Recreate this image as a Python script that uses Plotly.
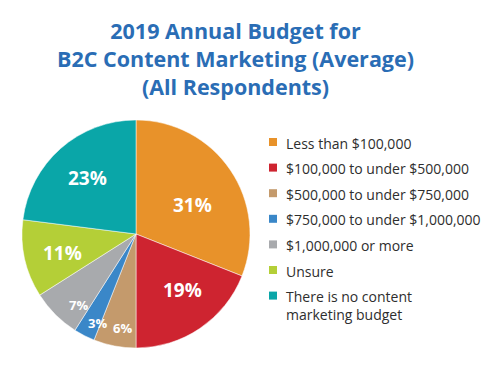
import math
import plotly.graph_objects as go

categories = [
    "Less than $100,000",
    "$100,000 to under $500,000",
    "$500,000 to under $750,000",
    "$750,000 to under $1,000,000",
    "$1,000,000 or more",
    "Unsure",
    "There is no content<br>marketing budget",
]
values = [31, 19, 6, 3, 7, 11, 23]
colors = ["#E8922A", "#CE2430", "#C49A6C", "#3A87C8", "#A8AAAD", "#B4CF37", "#0AA6A8"]

W, H = 500, 375
cx, cy, r = 136, 234, 114  # pixel centre / radius of pie

fig = go.Figure()
fig.add_trace(go.Pie(
    labels=categories, values=values, sort=False, direction="clockwise", rotation=0,
    marker=dict(colors=colors, line=dict(color="white", width=0.5)),
    textinfo="none", hoverinfo="label+percent", showlegend=False,
    domain=dict(x=[(cx - r) / W, (cx + r) / W], y=[(H - cy - r) / H, (H - cy + r) / H]),
))

# slice labels placed from the data angles
label_sizes = [19, 19, 13, 13, 13, 19, 19]
label_frac = [0.56, 0.64, 0.83, 0.85, 0.80, 0.67, 0.65]
label_dang = [7.2, -5.8, -2.9, -3.9, -6.2, -1.8, 0.8]  # degrees
total = sum(values)
cum = 0
annotations = []
for v, s, f, da in zip(values, label_sizes, label_frac, label_dang):
    mid = (cum + v / 2) / total * 2 * math.pi + math.radians(da)
    cum += v
    px = cx + f * r * math.sin(mid)
    py = cy - f * r * math.cos(mid)
    annotations.append(dict(
        x=px / W, y=1 - py / H, xref="paper", yref="paper", text=f"<b>{v}%</b>",
        showarrow=False, font=dict(family="Open Sans", size=s, color="white"),
        xanchor="center", yanchor="middle"))

# title
annotations.append(dict(
    x=235 / W, y=1 - 58 / H, xref="paper", yref="paper",
    text="<b>2019 Annual Budget for<br>B2C Content Marketing (Average)<br>(All Respondents)</b>",
    showarrow=False, align="center", xanchor="center", yanchor="middle",
    font=dict(family="Open Sans", size=21.5, color="#2A6DB5")))

# manual legend
leg_x, leg_y0, leg_dy = 273, 142, 25.6
leg_ys = [leg_y0 + i * leg_dy for i in range(len(categories))]
fig.add_trace(go.Scatter(
    x=[leg_x] * len(categories), y=leg_ys, mode="markers", xaxis="x", yaxis="y",
    marker=dict(symbol="square", size=8, color=colors), hoverinfo="skip", showlegend=False))
for lab, yy in zip(categories, leg_ys):
    annotations.append(dict(
        x=leg_x + 11, y=yy - 10.5, xref="x", yref="y", text=lab, showarrow=False,
        xanchor="left", yanchor="top", align="left",
        font=dict(family="Open Sans", size=14, color="#2E2E2E")))

fig.update_layout(
    width=W, height=H, margin=dict(l=0, r=0, t=0, b=0),
    paper_bgcolor="white", plot_bgcolor="rgba(0,0,0,0)",
    xaxis=dict(range=[0, W], domain=[0, 1], visible=False, fixedrange=True),
    yaxis=dict(range=[H, 0], domain=[0, 1], visible=False, fixedrange=True),
    annotations=annotations,
)
fig.write_html("out.html", config={"displayModeBar": False},
               post_script="document.body.style.margin='0';document.body.style.overflow='hidden';")
